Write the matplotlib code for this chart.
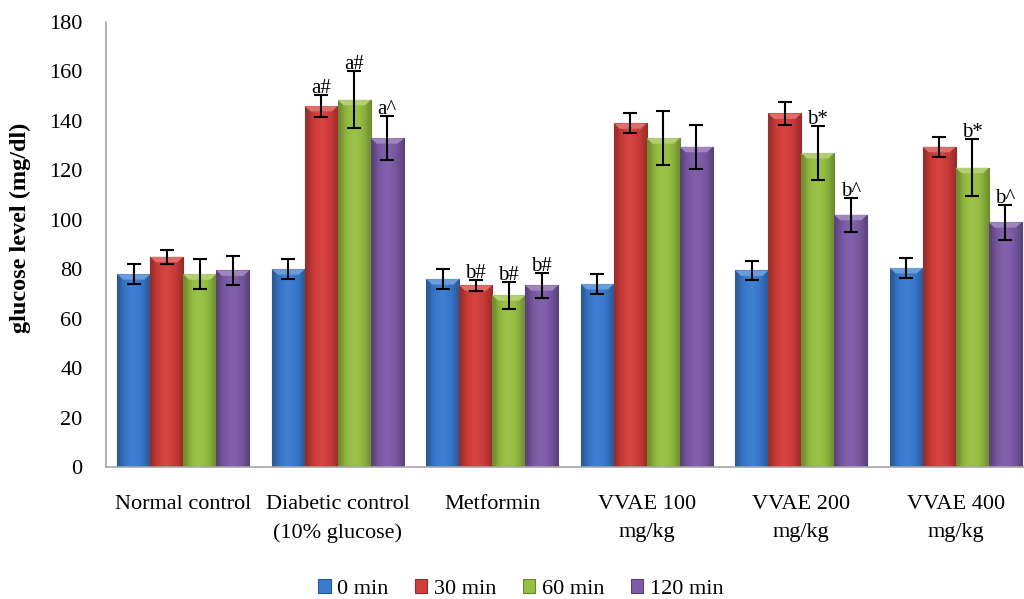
import numpy as np
import matplotlib
matplotlib.use("Agg")
import matplotlib.pyplot as plt
from matplotlib.colors import to_rgb

categories = ["Normal control", "Diabetic control\n(10% glucose)", "Metformin",
              "VVAE 100\nmg/kg", "VVAE 200\nmg/kg", "VVAE 400\nmg/kg"]
series = ["0 min", "30 min", "60 min", "120 min"]

v0 = [78, 80, 76, 74, 79.5, 80.5]
v30 = [85, 146, 73.5, 139, 143, 129.5]
v60 = [78, 148.5, 69.5, 133, 127, 121]
v120 = [79.5, 133, 73.5, 129.5, 102, 99]

e0 = [4, 4, 4, 4, 4, 4]
e30 = [2.7, 4.5, 2.3, 4, 4.5, 4]
e60 = [6, 11.5, 5.5, 11, 11, 11.5]
e120 = [6, 9, 5, 9, 7, 7]

a0 = ["", "", "", "", "", ""]
a30 = ["", "a#", "b#", "", "", ""]
a60 = ["", "a#", "b#", "", "b*", "b*"]
a120 = ["", "a^", "b#", "", "b^", "b^"]

yticks = [0, 20, 40, 60, 80, 100, 120, 140, 160, 180]

values = [v0, v30, v60, v120]
errors = [e0, e30, e60, e120]
annots = [a0, a30, a60, a120]
colors = ["#3A7BD0", "#D23E3A", "#98C043", "#7E5CA8"]

plt.rcParams['font.family'] = ['Liberation Serif', 'DejaVu Serif']

fig = plt.figure(figsize=(10.24, 5.99), dpi=100)
ax = fig.add_axes([106/1024, 1-467/599, 927/1024, (467-22)/599])

x = np.arange(len(categories))
w = 0.2135
fs = 16


def shade(c, f):
    r = np.array(to_rgb(c))
    if f < 1:
        return r * f
    return r + (1 - r) * (f - 1)


for i, (vals, errs, labs, col) in enumerate(zip(values, errors, annots, colors)):
    xs = x + (i - 1.5) * w
    bars = ax.bar(xs, vals, width=w, color=col, edgecolor=shade(col, 0.7),
                  linewidth=0.8, zorder=2, label=series[i])
    # horizontal gradient to mimic bevelled bars
    prof = np.array([0.72, 0.85, 0.95, 1.0, 1.03, 1.03, 1.0, 0.95, 0.88, 0.75])
    grad = np.array([[shade(col, f) for f in prof]])
    for b in bars:
        bx, by = b.get_x(), b.get_y()
        bw, bh = b.get_width(), b.get_height()
        im = ax.imshow(grad, extent=[bx, bx + bw, by, by + bh], aspect='auto',
                       interpolation='bicubic', zorder=2.1)
        im.set_clip_path(b)
        # light top bevel
        ax.fill([bx, bx + bw, bx + bw * 0.82, bx + bw * 0.18],
                [by + bh, by + bh, by + bh - 2.2, by + bh - 2.2],
                color=shade(col, 1.25), zorder=2.2, lw=0)
    ax.errorbar(xs, vals, yerr=errs, fmt='none', ecolor='black', elinewidth=1.5,
                capsize=5, capthick=1.5, zorder=3)
    for xi, v, e, t in zip(xs, vals, errs, labs):
        if t:
            ax.text(xi, v + e + 0.8, t, ha='center', va='baseline', fontsize=fs - 1,
                    zorder=4)

ax.set_xlim(-0.5, len(categories) - 0.5)
ax.set_ylim(0, 180)
ax.set_yticks(yticks)
ax.set_yticklabels([str(t) for t in yticks], fontsize=fs)
ax.set_xticks(x)
ax.set_xticklabels(categories, fontsize=fs, linespacing=1.65)
ax.tick_params(axis='both', length=0)
ax.tick_params(axis='y', pad=17)
ax.tick_params(axis='x', pad=20)
for s in ['top', 'right']:
    ax.spines[s].set_visible(False)
for s in ['left', 'bottom']:
    ax.spines[s].set_color('#A6A6A6')
    ax.spines[s].set_linewidth(1.2)

fig.text(20/1024, 1-228/599, "glucose level (mg/dl)", rotation=90, ha='center',
         va='center', fontsize=17.5, fontweight='bold')

leg = fig.legend(loc='center', bbox_to_anchor=(521/1024, 1-589/599), ncol=4,
                 frameon=False, fontsize=fs, handlelength=0.55, handleheight=0.55,
                 handletextpad=0.3, columnspacing=1.2)

fig.savefig("out.png", dpi=100)
